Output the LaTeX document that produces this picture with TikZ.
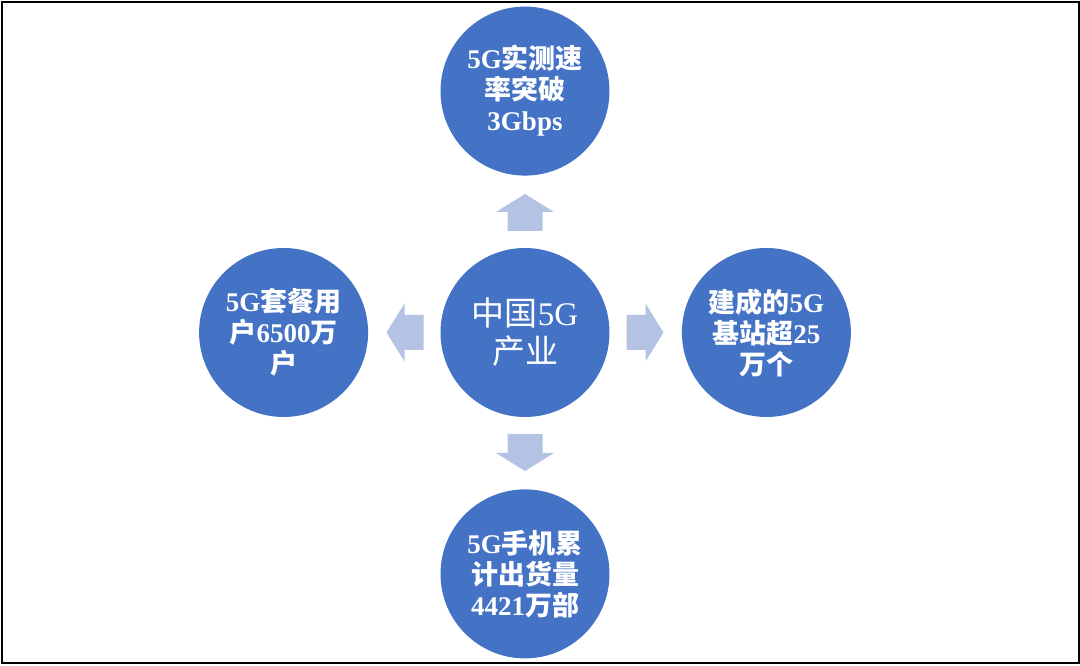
\documentclass[tikz,border=0pt]{standalone}
\usepackage{fontspec}
\setmainfont{Liberation Serif}
\newfontfamily\cjk{Noto Sans CJK SC}
\usetikzlibrary{positioning}
\definecolor{ballblue}{HTML}{4472C4}
\definecolor{arrowblue}{HTML}{B4C3E4}
\newcommand{\zh}[1]{{\cjk #1}}
\tikzset{
	ball/.style={circle,fill=ballblue,minimum size=169pt,inner sep=0pt,text=white,align=center},
	outer/.style={ball,font=\bfseries\fontsize{27}{31}\selectfont},
	hub/.style={ball,font=\fontsize{33}{38}\selectfont},
	blockarrow/.style={fill=arrowblue,shift={(c.center)}}
}
\begin{document}
\begin{tikzpicture}[x=1pt,y=1pt]
			\useasboundingbox (0,0) rectangle (1080,666);
			\draw[line width=1.2pt] (2,3) rectangle (1079,664);
			\node[hub] (c) at (525,333.5) {\zh{中国}5G\\\zh{产业}};
			\node[outer,above=72pt of c] (speed) {5G\zh{实测速}\\\zh{率突破}\\3Gbps};
			\node[outer,below=72pt of c] (phone) {5G\zh{手机累}\\\zh{计出货量}\\4421\zh{万部}};
			\node[outer,left=72pt of c] (user) {5G\zh{套餐用}\\\zh{户}6500\zh{万}\\\zh{户}};
			\node[outer,right=72pt of c] (base) {\zh{建成的}5G\\\zh{基站超}25\\\zh{万个}};
			% block arrows between the hub and the outer circles
			\foreach \r in {90,-90,180,0}
				\fill[blockarrow,rotate=\r] (101.5,-17.5) -- (120.5,-17.5) -- (120.5,-29) -- (138.5,0)
					-- (120.5,29) -- (120.5,17.5) -- (101.5,17.5) -- cycle;
	\end{tikzpicture}
\end{document}
